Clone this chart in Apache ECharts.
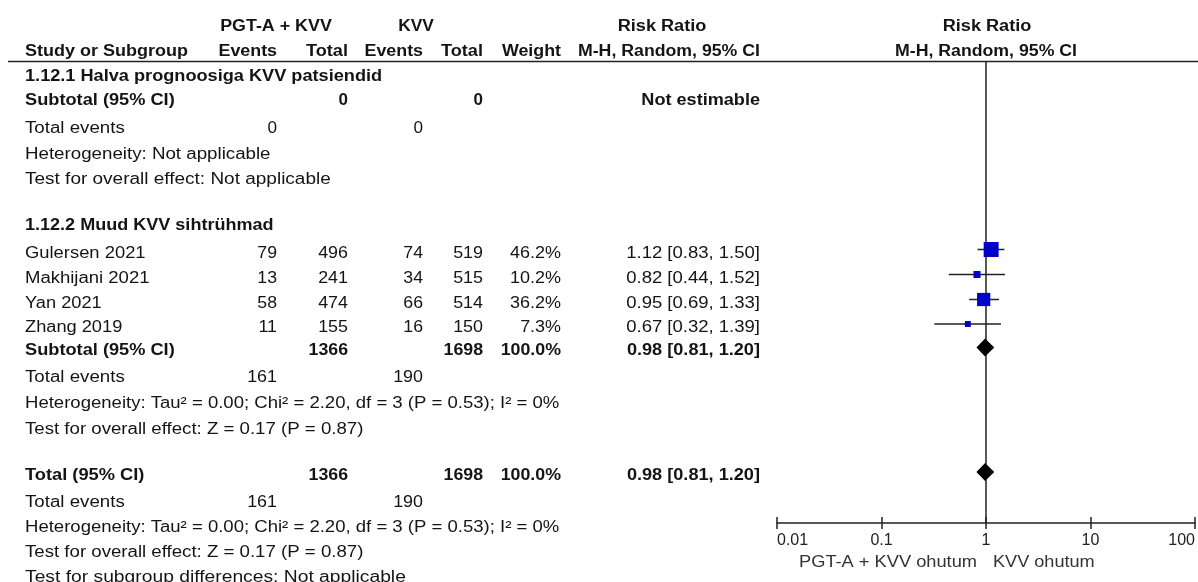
<!DOCTYPE html>
<html><head><meta charset="utf-8">
<script src="https://cdn.jsdelivr.net/npm/echarts@6/dist/echarts.min.js"></script>
<style>html,body{margin:0;padding:0;background:#fff}#c{width:1198px;height:582px}</style>
</head><body><div id="c"></div>
<script>
// ---------------- DATA ----------------
const studies   = ['Gulersen 2021', 'Makhijani 2021', 'Yan 2021', 'Zhang 2019'];
const expEvents = [79, 13, 58, 11];
const expTotal  = [496, 241, 474, 155];
const ctlEvents = [74, 34, 66, 16];
const ctlTotal  = [519, 515, 514, 150];
const weights   = [46.2, 10.2, 36.2, 7.3];
const rrEst     = [1.12, 0.82, 0.95, 0.67];
const rrLow     = [0.83, 0.44, 0.69, 0.32];
const rrHigh    = [1.50, 1.52, 1.33, 1.39];
const subtotalRR = [0.98, 0.81, 1.20];   // est, low, high
const totalRR    = [0.98, 0.81, 1.20];
const sumExpTotal = 1366, sumCtlTotal = 1698, sumExpEvents = 161, sumCtlEvents = 190;
const tickValues = [0.01, 0.1, 1, 10, 100];
const tickLabels = ['0.01', '0.1', '1', '10', '100'];
const hetText  = 'Heterogeneity: Tau\u00b2 = 0.00; Chi\u00b2 = 2.20, df = 3 (P = 0.53); I\u00b2 = 0%';
const testText = 'Test for overall effect: Z = 0.17 (P = 0.87)';

// ---------------- LAYOUT ----------------
const COL = {study: 25, e1: 277, t1: 348, e2: 423, t2: 483, w: 561, rr: 760};
const ROW = {
  h1: 25, h2: 50, line: 61.5,
  g1title: 75, g1sub: 99.5, g1ev: 127.5, g1het: 153, g1test: 178,
  g2title: 224, studies: [252, 277, 302, 326.5], g2sub: 349.5, g2ev: 376.5, g2het: 402.5, g2test: 428,
  tot: 474, totEv: 501.5, totHet: 526.5, totTest: 551.5, sub: 576.5, foot: 561
};
const TEXT_DY = 1.5;
const PLOT_TOP = 62, PLOT_BOTTOM = 523;
const FONT = '"Liberation Sans", Arial, sans-serif';
const TXT = '#141414';

const mctx = document.createElement('canvas').getContext('2d');
function txt(str, x, y, align, bold, color, spacing) {
  const font = (bold ? 'bold ' : '') + '16px ' + FONT;
  mctx.font = font;
  const w = mctx.measureText(str).width || 1;
  const sp = spacing != null ? spacing : (bold ? 1.1 : 1.25);
  const s = (w + sp * (str.length - 0.5)) / w;
  return {type: 'text', x: x, y: y + TEXT_DY, scaleX: s, silent: true,
    style: {text: str, x: 0, y: 0, align: align, verticalAlign: 'middle', font: font, fill: color || TXT}};
}
const f2 = v => v.toFixed(2);
const ci = a => f2(a[0]) + ' [' + f2(a[1]) + ', ' + f2(a[2]) + ']';

const g = [];
// header
g.push(txt('PGT-A + KVV', 276, ROW.h1, 'center', true));
g.push(txt('KVV', 416, ROW.h1, 'center', true));
g.push(txt('Risk Ratio', 662, ROW.h1, 'center', true));
g.push(txt('Risk Ratio', 987, ROW.h1, 'center', true));
g.push(txt('Study or Subgroup', COL.study, ROW.h2, 'left', true));
g.push(txt('Events', COL.e1, ROW.h2, 'right', true));
g.push(txt('Total', COL.t1, ROW.h2, 'right', true));
g.push(txt('Events', COL.e2, ROW.h2, 'right', true));
g.push(txt('Total', COL.t2, ROW.h2, 'right', true));
g.push(txt('Weight', COL.w, ROW.h2, 'right', true));
g.push(txt('M-H, Random, 95% CI', COL.rr, ROW.h2, 'right', true, null, 0.95));
g.push(txt('M-H, Random, 95% CI', 986, ROW.h2, 'center', true, null, 0.95));
g.push({type: 'line', silent: true, shape: {x1: 8, y1: ROW.line, x2: 1198, y2: ROW.line}, style: {stroke: '#222', lineWidth: 1.5}});
// group 1
g.push(txt('1.12.1 Halva prognoosiga KVV patsiendid', COL.study, ROW.g1title, 'left', true));
g.push(txt('Subtotal (95% CI)', COL.study, ROW.g1sub, 'left', true));
g.push(txt('0', COL.t1, ROW.g1sub, 'right', true));
g.push(txt('0', COL.t2, ROW.g1sub, 'right', true));
g.push(txt('Not estimable', COL.rr, ROW.g1sub, 'right', true));
g.push(txt('Total events', COL.study, ROW.g1ev, 'left'));
g.push(txt('0', COL.e1, ROW.g1ev, 'right'));
g.push(txt('0', COL.e2, ROW.g1ev, 'right'));
g.push(txt('Heterogeneity: Not applicable', COL.study, ROW.g1het, 'left'));
g.push(txt('Test for overall effect: Not applicable', COL.study, ROW.g1test, 'left'));
// group 2
g.push(txt('1.12.2 Muud KVV sihtr\u00fchmad', COL.study, ROW.g2title, 'left', true));
studies.forEach((s, i) => {
  const y = ROW.studies[i];
  g.push(txt(s, COL.study, y, 'left'));
  g.push(txt(String(expEvents[i]), COL.e1, y, 'right'));
  g.push(txt(String(expTotal[i]), COL.t1, y, 'right'));
  g.push(txt(String(ctlEvents[i]), COL.e2, y, 'right'));
  g.push(txt(String(ctlTotal[i]), COL.t2, y, 'right'));
  g.push(txt(weights[i].toFixed(1) + '%', COL.w, y, 'right'));
  g.push(txt(ci([rrEst[i], rrLow[i], rrHigh[i]]), COL.rr, y, 'right', false, null, 1.1));
});
g.push(txt('Subtotal (95% CI)', COL.study, ROW.g2sub, 'left', true));
g.push(txt(String(sumExpTotal), COL.t1, ROW.g2sub, 'right', true));
g.push(txt(String(sumCtlTotal), COL.t2, ROW.g2sub, 'right', true));
g.push(txt('100.0%', COL.w, ROW.g2sub, 'right', true));
g.push(txt(ci(subtotalRR), COL.rr, ROW.g2sub, 'right', true, null, 0.95));
g.push(txt('Total events', COL.study, ROW.g2ev, 'left'));
g.push(txt(String(sumExpEvents), COL.e1, ROW.g2ev, 'right'));
g.push(txt(String(sumCtlEvents), COL.e2, ROW.g2ev, 'right'));
g.push(txt(hetText, COL.study, ROW.g2het, 'left', false, null, 1.1));
g.push(txt(testText, COL.study, ROW.g2test, 'left', false, null, 1.1));
// total
g.push(txt('Total (95% CI)', COL.study, ROW.tot, 'left', true));
g.push(txt(String(sumExpTotal), COL.t1, ROW.tot, 'right', true));
g.push(txt(String(sumCtlTotal), COL.t2, ROW.tot, 'right', true));
g.push(txt('100.0%', COL.w, ROW.tot, 'right', true));
g.push(txt(ci(totalRR), COL.rr, ROW.tot, 'right', true, null, 0.95));
g.push(txt('Total events', COL.study, ROW.totEv, 'left'));
g.push(txt(String(sumExpEvents), COL.e1, ROW.totEv, 'right'));
g.push(txt(String(sumCtlEvents), COL.e2, ROW.totEv, 'right'));
g.push(txt(hetText, COL.study, ROW.totHet, 'left', false, null, 1.1));
g.push(txt(testText, COL.study, ROW.totTest, 'left', false, null, 1.1));
g.push(txt('Test for subgroup differences: Not applicable', COL.study, ROW.sub, 'left', false, null, 1.45));
// footer under axis
g.push(txt('PGT-A + KVV ohutum', 977, ROW.foot, 'right', false, '#333'));
g.push(txt('KVV ohutum', 993, ROW.foot, 'left', false, '#333'));

// ---------------- CHART ----------------
const studyData = studies.map((s, i) => [rrEst[i], rrLow[i], rrHigh[i], ROW.studies[i], weights[i]]);
const diamondData = [
  [subtotalRR[0], subtotalRR[1], subtotalRR[2], ROW.g2sub],
  [totalRR[0], totalRR[1], totalRR[2], ROW.tot]
];

const chart = echarts.init(document.getElementById('c'), null, {renderer: 'canvas'});
const xBase = {
  type: 'log', logBase: 10, min: 0.01, max: 100, position: 'bottom', offset: 0,
  splitLine: {show: false}, minorTick: {show: false}
};
chart.setOption({
  animation: false,
  backgroundColor: '#fff',
  grid: {left: 777, right: 3, top: PLOT_TOP, bottom: 582 - PLOT_BOTTOM, containLabel: false},
  xAxis: [
    Object.assign({}, xBase, {
      axisLine: {show: true, lineStyle: {color: '#222', width: 1.5}},
      axisTick: {show: true, inside: false, length: 6, lineStyle: {color: '#222', width: 1.5}},
      axisLabel: {
        show: true, margin: 10, color: '#222', fontSize: 16, fontFamily: FONT,
        alignMinLabel: 'left', alignMaxLabel: 'right',
        formatter: v => { const k = tickValues.findIndex(t => Math.abs(Math.log10(t) - Math.log10(v)) < 1e-6); return k >= 0 ? tickLabels[k] : ''; }
      }
    }),
    Object.assign({}, xBase, {
      axisLine: {show: false},
      axisTick: {show: true, inside: true, length: 6, lineStyle: {color: '#222', width: 1.5}},
      axisLabel: {show: false}
    })
  ],
  yAxis: {type: 'value', min: PLOT_TOP, max: PLOT_BOTTOM, inverse: true, show: false},
  graphic: {elements: g},
  series: [
    { // line of no effect
      type: 'custom', xAxisIndex: 0, silent: true, data: [[1]],
      renderItem: (params, api) => {
        const a = api.coord([api.value(0), PLOT_TOP]);
        const b = api.coord([api.value(0), PLOT_BOTTOM]);
        return {type: 'line', shape: {x1: a[0], y1: a[1], x2: b[0], y2: b[1]}, style: {stroke: '#222', lineWidth: 1.5}};
      }
    },
    { // studies
      type: 'custom', xAxisIndex: 0, silent: true, data: studyData,
      encode: {x: [0, 1, 2], y: 3},
      renderItem: (params, api) => {
        const y = api.value(3);
        const c = api.coord([api.value(0), y]);
        const l = api.coord([api.value(1), y]);
        const h = api.coord([api.value(2), y]);
        const yy = c[1] - 2.5;
        const sz = 2.2 * Math.sqrt(api.value(4));
        return {type: 'group', children: [
          {type: 'line', shape: {x1: l[0], y1: yy, x2: h[0], y2: yy}, style: {stroke: '#222', lineWidth: 1.5}},
          {type: 'rect', shape: {x: c[0] - sz / 2, y: yy - sz / 2, width: sz, height: sz}, style: {fill: '#0000C8'}}
        ]};
      }
    },
    { // pooled diamonds
      type: 'custom', xAxisIndex: 0, silent: true, data: diamondData,
      encode: {x: [0, 1, 2], y: 3},
      renderItem: (params, api) => {
        const y = api.value(3);
        const c = api.coord([api.value(0), y]);
        const l = api.coord([api.value(1), y]);
        const h = api.coord([api.value(2), y]);
        const yy = c[1] - 2;
        return {type: 'polygon', shape: {points: [[l[0], yy], [c[0], yy - 9], [h[0], yy], [c[0], yy + 9]]}, style: {fill: '#000'}};
      }
    }
  ]
});
</script>
</body></html>
